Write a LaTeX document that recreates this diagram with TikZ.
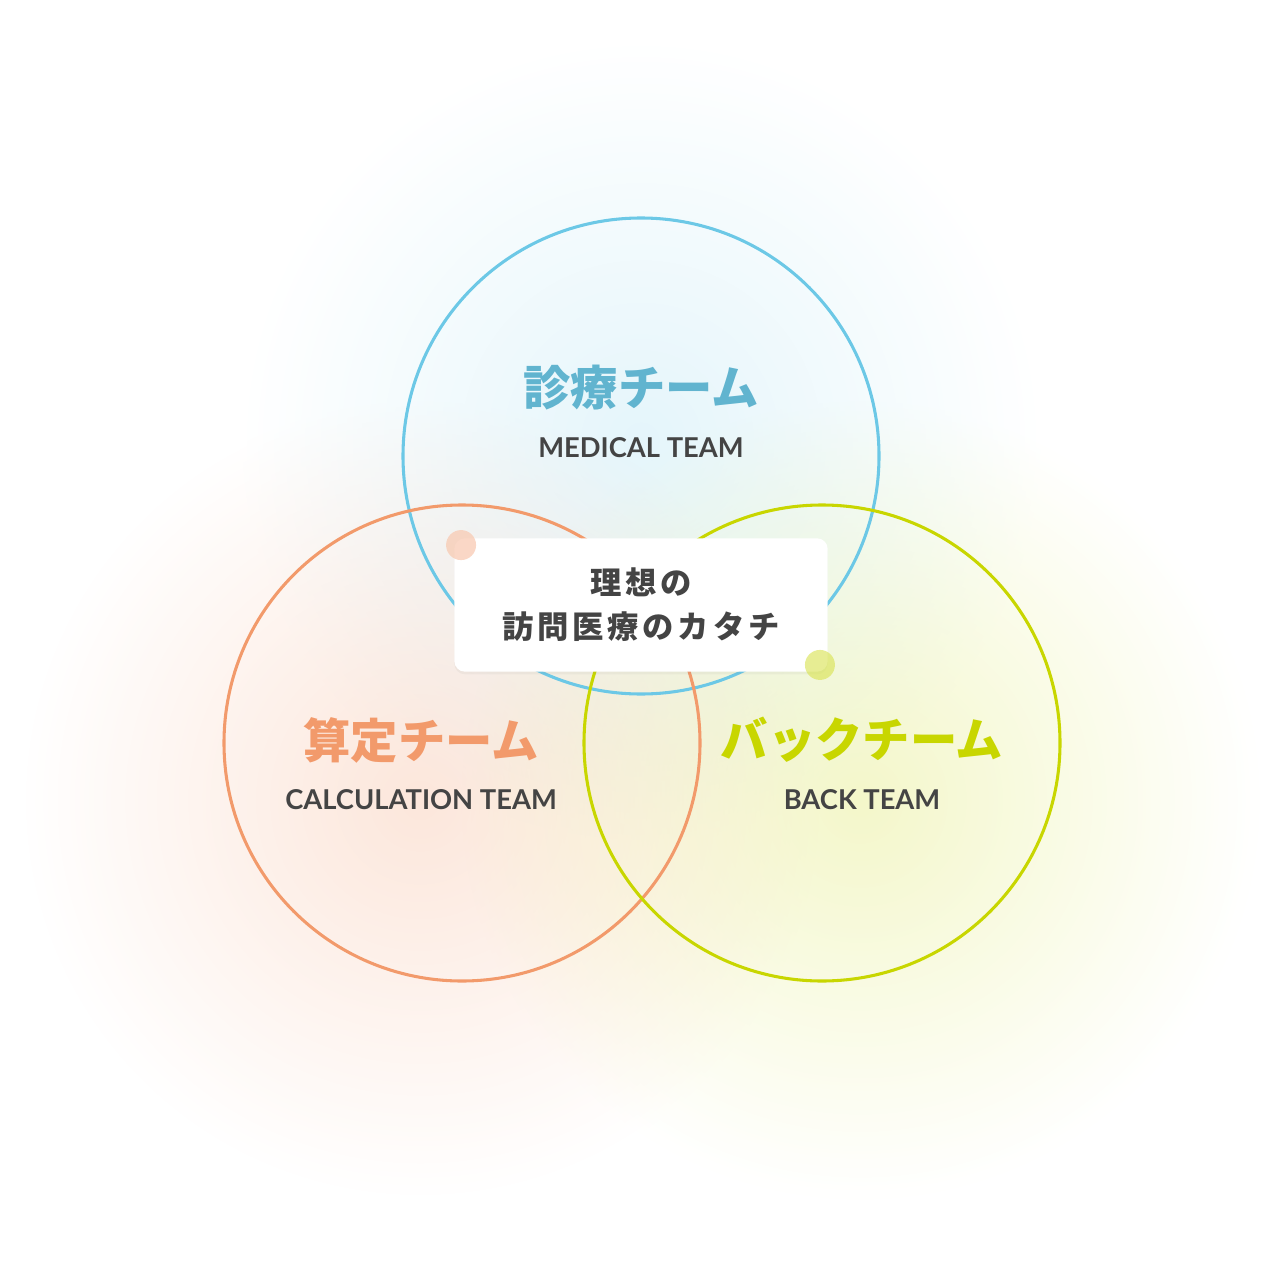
\documentclass[tikz,border=0pt]{standalone}
\usepackage{fontspec}
\setmainfont{Lato}
\newfontfamily\jpfont{Noto Sans CJK JP}
\usetikzlibrary{positioning, fadings, shadows}
\tikzfading[name=glow fade, inner color=transparent!0, outer color=transparent!100]
\definecolor{medblue}{HTML}{6CC8E6}
\definecolor{calcorange}{HTML}{F29A6B}
\definecolor{backgreen}{HTML}{C8D600}
\definecolor{textgray}{HTML}{444444}
\begin{document}
\begin{tikzpicture}
    [
        x=0.75pt, y=-0.75pt,
        team_circle/.style={circle, line width=2.3pt, minimum size=357pt, inner sep=0pt},
        glow/.style={path fading=glow fade, opacity=#1},
        jp_title/.style={font=\jpfont\bfseries\fontsize{35.5}{40}\selectfont},
        en_title/.style={font=\bfseries\fontsize{20.5}{24}\selectfont, text=textgray},
    ]
        \useasboundingbox (0,0) rectangle (1284,1284);
        \fill[medblue!60, glow=0.3] (641,440) circle (400);
        \fill[calcorange!70, glow=0.35] (420,800) circle (400);
        \fill[backgreen!60, glow=0.35] (860,800) circle (400);
        \node[team_circle, draw=medblue] (medical) at (641,456) {};
        \node[team_circle, draw=calcorange] (calc) at (462,743) {};
        \node[team_circle, draw=backgreen] (back) at (822,743) {};
        \node[jp_title, text=medblue!90!black] (medjp) at (641,388) {診療チーム};
        \node[en_title] (meden) at (641,448) {MEDICAL TEAM};
        \node[jp_title, text=calcorange] (calcjp) at (421,740) {算定チーム};
        \node[en_title] (calcen) at (421,800) {CALCULATION TEAM};
        \node[jp_title, text=backgreen] (backjp) at (862,740) {バックチーム};
        \node[en_title] (backen) at (862,800) {BACK TEAM};
        \node[fill=white, rounded corners=8pt, minimum width=280pt, minimum height=100pt, drop shadow={opacity=0.08, shadow xshift=0pt, shadow yshift=-2pt}, align=center, text=textgray, font=\jpfont\bfseries\fontsize{23.5}{33}\selectfont\addfontfeature{LetterSpace=12}] (ideal) at (641,605) {理想の\\訪問医療のカタチ};
        \fill[calcorange!55, opacity=0.7] (ideal.north west) ++(7,7) circle (15);
        \fill[backgreen!70, opacity=0.6] (ideal.south east) ++(-8,-7) circle (15);
    \end{tikzpicture}
\end{document}
